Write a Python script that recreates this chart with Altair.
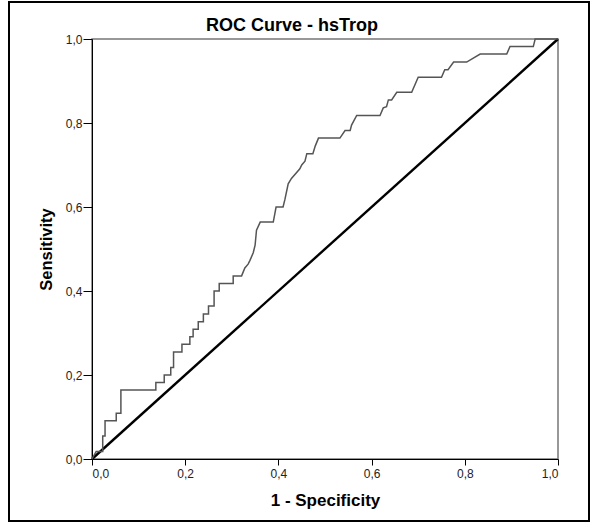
import altair as alt
import pandas as pd

# ROC curve points (1 - Specificity, Sensitivity)
fpr = [0.000, 0.009, 0.023, 0.023, 0.028, 0.028, 0.052, 0.052, 0.062, 0.062,
       0.137, 0.137, 0.155, 0.155, 0.169, 0.169, 0.175, 0.175, 0.193, 0.193,
       0.210, 0.210, 0.217, 0.217, 0.228, 0.228, 0.239, 0.239, 0.250, 0.250,
       0.262, 0.262, 0.273, 0.273, 0.303, 0.303, 0.321, 0.328, 0.335, 0.339,
       0.346, 0.350, 0.353, 0.361, 0.389, 0.395, 0.410, 0.414, 0.421, 0.428,
       0.446, 0.450, 0.457, 0.461, 0.474, 0.479, 0.486, 0.532, 0.543, 0.554,
       0.557, 0.568, 0.618, 0.625, 0.632, 0.636, 0.643, 0.654, 0.686, 0.700,
       0.750, 0.757, 0.764, 0.776, 0.804, 0.833, 0.890, 0.897, 0.947, 0.951,
       1.000]
tpr = [0.000, 0.018, 0.018, 0.055, 0.055, 0.091, 0.091, 0.109, 0.109, 0.164,
       0.164, 0.182, 0.182, 0.200, 0.200, 0.218, 0.218, 0.255, 0.255, 0.273,
       0.273, 0.291, 0.291, 0.309, 0.309, 0.327, 0.327, 0.345, 0.345, 0.364,
       0.364, 0.400, 0.400, 0.418, 0.418, 0.436, 0.436, 0.455, 0.464, 0.473,
       0.491, 0.509, 0.545, 0.564, 0.564, 0.600, 0.600, 0.618, 0.655, 0.668,
       0.691, 0.700, 0.709, 0.727, 0.727, 0.745, 0.764, 0.764, 0.782, 0.782,
       0.795, 0.818, 0.818, 0.836, 0.839, 0.855, 0.855, 0.873, 0.873, 0.909,
       0.909, 0.927, 0.927, 0.945, 0.945, 0.964, 0.964, 0.982, 0.982, 1.000,
       1.000]
ref_x = [0.0, 1.0]
ref_y = [0.0, 1.0]
tick_values = [0.0, 0.2, 0.4, 0.6, 0.8, 1.0]

curve = pd.DataFrame({"fpr": fpr, "tpr": tpr, "order": list(range(len(fpr)))})
diag = pd.DataFrame({"fpr": ref_x, "tpr": ref_y, "order": [0, 1]})

FONT = "Liberation Sans"
label_expr = "replace(format(datum.value, '.1f'), '.', ',')"

x_enc = alt.X("fpr:Q", scale=alt.Scale(domain=[0, 1], nice=False),
              axis=alt.Axis(title="1 - Specificity", values=tick_values,
                            labelExpr=label_expr, grid=False, tickSize=6,
                            labelPadding=3, domainColor="black", tickColor="black",
                            titleFontWeight="bold", titleFontSize=17,
                            titleBaseline="alphabetic", titleY=46,
                            labelFontSize=12, labelColor="#222", titleColor="black"))
y_enc = alt.Y("tpr:Q", scale=alt.Scale(domain=[0, 1], nice=False),
              axis=alt.Axis(title="Sensitivity", values=tick_values,
                            labelExpr=label_expr, grid=False, tickSize=9,
                            labelPadding=1, domainColor="black", tickColor="black",
                            titleFontWeight="bold", titleFontSize=16.5,
                            titleBaseline="alphabetic", titleX=-41,
                            labelFontSize=12, labelColor="#222", titleColor="black"))

roc = alt.Chart(curve).mark_line(color="#555555", strokeWidth=1.5).encode(
    x=x_enc, y=y_enc, order="order:Q")
ref = alt.Chart(diag).mark_line(color="black", strokeWidth=2.4).encode(
    x="fpr:Q", y="tpr:Q", order="order:Q")

border = alt.Chart(pd.DataFrame({"a": [0]})).mark_rect(
    fill="transparent", stroke="black", strokeWidth=2, clip=False
).encode(x=alt.value(-83), x2=alt.value(497), y=alt.value(-37), y2=alt.value(482))

chart = alt.layer(ref, roc, border).properties(
    width=466, height=420,
    title=alt.TitleParams("ROC Curve - hsTrop", fontSize=18, fontWeight="bold",
                          font=FONT, color="black", dx=-33, offset=4, dy=52,
                          baseline="alphabetic"),
    autosize=alt.AutoSizeParams(type="none"),
    padding={"left": 92, "top": 39, "right": 39, "bottom": 69},
).configure(font=FONT, background="white").configure_view(
    stroke="#777777", strokeWidth=1.5
).configure_axis(labelFont=FONT, titleFont=FONT)

chart.save("out.html", embed_options={"renderer": "svg", "actions": False})
